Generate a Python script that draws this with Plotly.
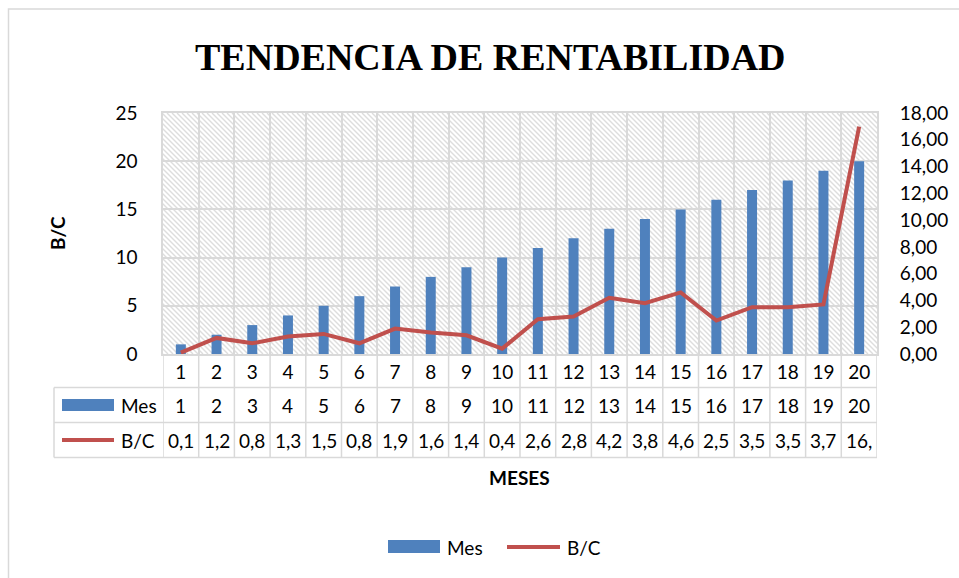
import base64
import plotly.graph_objects as go

# ---------------- data ----------------
meses = [str(i) for i in range(1, 21)]
mes_vals = [1, 2, 3, 4, 5, 6, 7, 8, 9, 10, 11, 12, 13, 14, 15, 16, 17, 18, 19, 20]
bc_vals = [0.1, 1.2, 0.8, 1.3, 1.5, 0.8, 1.9, 1.6, 1.4, 0.4,
           2.6, 2.8, 4.2, 3.8, 4.6, 2.5, 3.5, 3.5, 3.7, 16.98]
left_ticks = [0, 5, 10, 15, 20, 25]
right_ticks = [0, 2, 4, 6, 8, 10, 12, 14, 16, 18]

TITLE = "TENDENCIA DE RENTABILIDAD"
BLUE = "#4f81bd"
RED = "#c0504d"
GRID = "#d9d9d9"
FONT = "Lato"

# ---------------- geometry helpers (pixels -> paper) ----------------
W, H = 959, 578
PL, PR, PT, PB = 163, 877, 113, 354


def px(x):
    return (x - PL) / (PR - PL)


def py(y):
    return (PB - y) / (PB - PT)


# hatch pattern background for the plot area
pw, ph = PR - PL, PB - PT
lines = []
step = 5
for k in range(-ph, pw + ph, step):
    lines.append(f'<line x1="{k}" y1="0" x2="{k + ph}" y2="{ph}" />')
svg = (f'<svg xmlns="http://www.w3.org/2000/svg" width="{pw}" height="{ph}" '
       f'viewBox="0 0 {pw} {ph}"><rect width="{pw}" height="{ph}" fill="white"/>'
       f'<g stroke="#dddddd" stroke-width="1.4">' + "".join(lines) + '</g></svg>')
svg_uri = "data:image/svg+xml;base64," + base64.b64encode(svg.encode()).decode()

fig = go.Figure()
fig.add_trace(go.Bar(x=meses, y=mes_vals, name="Mes", width=0.28,
                     marker=dict(color=BLUE, line=dict(width=0)), showlegend=False))
fig.add_trace(go.Scatter(x=meses, y=bc_vals, name="B/C", yaxis="y2", mode="lines",
                         line=dict(color=RED, width=4), showlegend=False))

shapes = []
annotations = []

# chart outer border
shapes.append(dict(type="rect", xref="paper", yref="paper", x0=px(8.5), x1=px(990),
                   y0=py(600), y1=py(9), line=dict(color=GRID, width=1.5), layer="below"))

# data table lines
for yy in [387.5, 422.5, 457.5]:
    shapes.append(dict(type="line", xref="paper", yref="paper", x0=px(54), x1=px(877),
                       y0=py(yy), y1=py(yy), line=dict(color=GRID, width=1.5)))
for k in range(len(meses) + 1):
    shapes.append(dict(type="line", xref="x", yref="paper", x0=k - 0.5, x1=k - 0.5,
                       y0=py(354), y1=py(457.5), line=dict(color=GRID, width=1.5)))
shapes.append(dict(type="line", xref="paper", yref="paper", x0=px(54), x1=px(54),
                   y0=py(387.5), y1=py(457.5), line=dict(color=GRID, width=1.5)))

# table legend keys
shapes.append(dict(type="rect", xref="paper", yref="paper", x0=px(62), x1=px(114),
                   y0=py(411), y1=py(399), fillcolor=BLUE, line=dict(width=0)))
shapes.append(dict(type="line", xref="paper", yref="paper", x0=px(62), x1=px(114),
                   y0=py(440), y1=py(440), line=dict(color=RED, width=4)))
annotations.append(dict(x=px(119), y=py(405), xref="paper", yref="paper", text="Mes",
                        showarrow=False, xanchor="left", yanchor="middle",
                        font=dict(family=FONT, size=19, color="black")))
annotations.append(dict(x=px(119), y=py(440), xref="paper", yref="paper", text="B/C",
                        showarrow=False, xanchor="left", yanchor="middle",
                        font=dict(family=FONT, size=19, color="black")))

# table values (positioned by category index on the x axis)
for i, (m, b) in enumerate(zip(mes_vals, bc_vals)):
    annotations.append(dict(x=i, y=py(405), xref="x", yref="paper", text=str(m),
                            showarrow=False, yanchor="middle",
                            font=dict(family=FONT, size=19, color="black")))
    label = f"{b:.2f}".replace(".", ",")[:3]
    annotations.append(dict(x=i, y=py(440), xref="x", yref="paper", text=label,
                            showarrow=False, yanchor="middle",
                            font=dict(family=FONT, size=19, color="black")))

# titles
annotations.append(dict(x=px(490), y=py(57), xref="paper", yref="paper", text=f"<b>{TITLE}</b>",
                        showarrow=False, xanchor="center", yanchor="middle",
                        font=dict(family="Liberation Serif", size=38, color="black")))
annotations.append(dict(x=px(57), y=py(233), xref="paper", yref="paper", text="<b>B/C</b>",
                        showarrow=False, textangle=-90, xanchor="center", yanchor="middle",
                        font=dict(family=FONT, size=19, color="black")))
annotations.append(dict(x=px(519), y=py(477), xref="paper", yref="paper", text="<b>MESES</b>",
                        showarrow=False, xanchor="center", yanchor="middle",
                        font=dict(family=FONT, size=19, color="black")))

# bottom legend
shapes.append(dict(type="rect", xref="paper", yref="paper", x0=px(388), x1=px(440),
                   y0=py(553), y1=py(540), fillcolor=BLUE, line=dict(width=0)))
shapes.append(dict(type="line", xref="paper", yref="paper", x0=px(507), x1=px(560),
                   y0=py(547), y1=py(547), line=dict(color=RED, width=4)))
annotations.append(dict(x=px(445), y=py(547), xref="paper", yref="paper", text="Mes",
                        showarrow=False, xanchor="left", yanchor="middle",
                        font=dict(family=FONT, size=19, color="black")))
annotations.append(dict(x=px(565), y=py(547), xref="paper", yref="paper", text="B/C",
                        showarrow=False, xanchor="left", yanchor="middle",
                        font=dict(family=FONT, size=19, color="black")))

fig.update_layout(
    width=W, height=H, autosize=False,
    margin=dict(l=PL, r=W - PR, t=PT, b=H - PB, pad=0),
    paper_bgcolor="white", plot_bgcolor="rgba(0,0,0,0)",
    separators=",.",
    bargap=0.7,
    font=dict(family=FONT, size=19, color="black"),
    showlegend=False,
    xaxis=dict(type="category", tickson="boundaries", showgrid=True, gridcolor=GRID,
               gridwidth=1.5, ticks="outside", ticklen=6, tickcolor="rgba(0,0,0,0)",
               showline=True, linecolor=GRID, linewidth=1.5, mirror=True,
               tickfont=dict(family=FONT, size=19, color="black"), range=[-0.5, 19.5]),
    yaxis=dict(range=[0, 25], tickvals=left_ticks, showgrid=True, gridcolor=GRID,
               gridwidth=1.5, zeroline=False, ticks="outside", ticklen=20,
               tickcolor="rgba(0,0,0,0)", showline=True, linecolor=GRID, linewidth=1.5,
               mirror=True, tickfont=dict(family=FONT, size=19, color="black")),
    yaxis2=dict(range=[0, 18], tickvals=right_ticks, tickformat=".2f", overlaying="y",
                side="right", showgrid=False, zeroline=False, ticks="outside", ticklen=18,
                tickcolor="rgba(0,0,0,0)", showline=False,
                tickfont=dict(family=FONT, size=19, color="black")),
    shapes=shapes,
    annotations=annotations,
    images=[dict(source=svg_uri, xref="paper", yref="paper", x=0, y=1, sizex=1, sizey=1,
                 xanchor="left", yanchor="top", sizing="stretch", layer="below")],
)

fig.write_html("out.html", config={"displayModeBar": False},
               post_script="document.body.style.margin='0';document.body.style.overflow='hidden';")
